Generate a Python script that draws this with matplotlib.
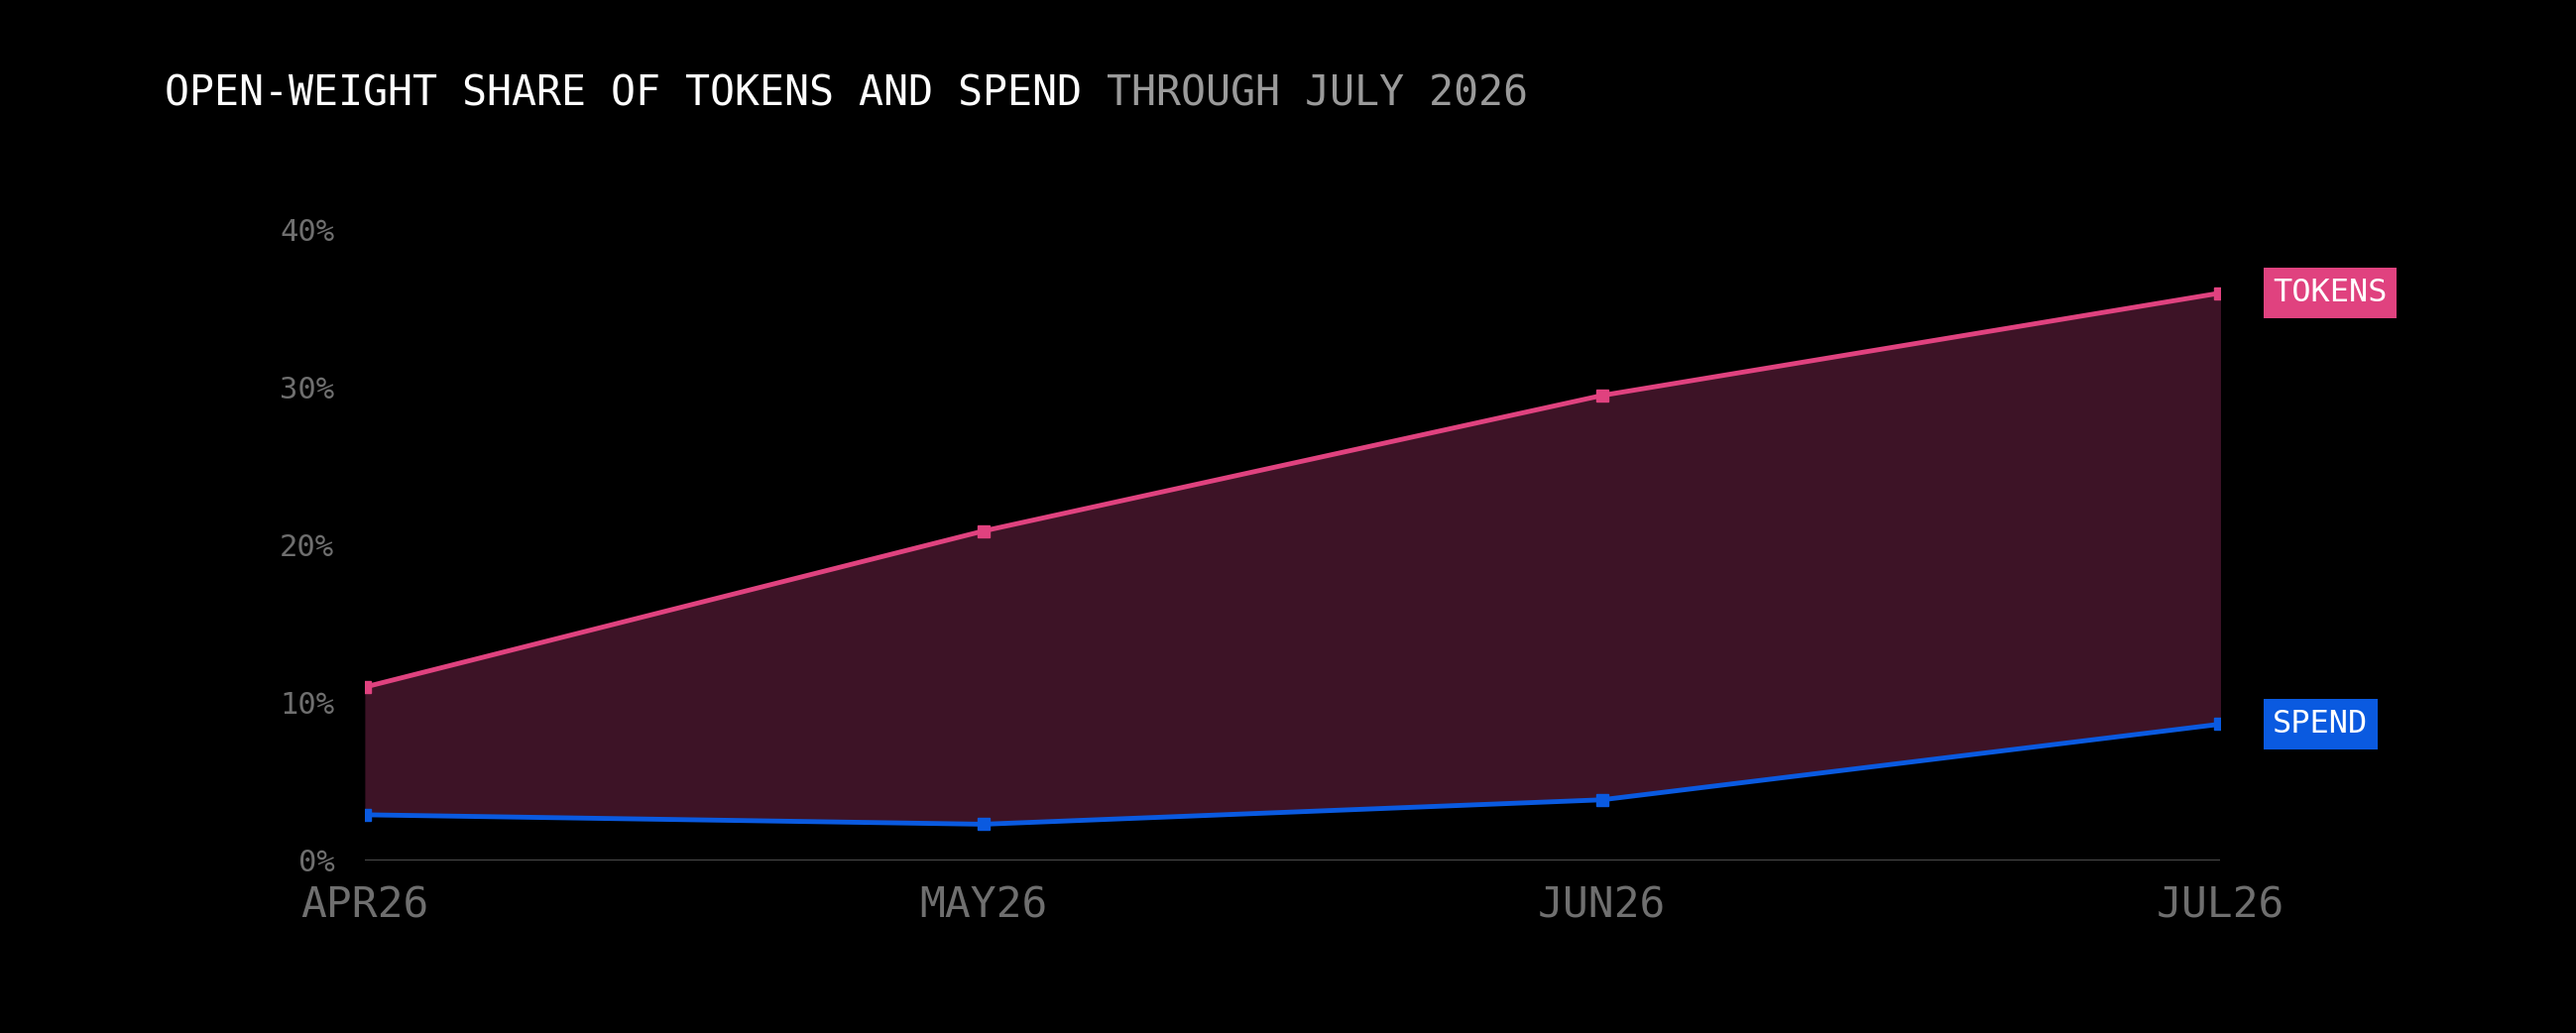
import matplotlib
matplotlib.use("Agg")
import matplotlib.pyplot as plt

months = ["APR26", "MAY26", "JUN26", "JUL26"]
tokens = [11.0, 20.9, 29.5, 36.0]
spend = [2.9, 2.3, 3.85, 8.65]
yticks = [0, 10, 20, 30, 40]

BG = "#000000"
PINK = "#e0427f"
BLUE = "#0a5ae0"
FILL = "#3d1326"
GRAY = "#6f6f6f"
FONT = ["DejaVu Sans Mono"]

fig = plt.figure(figsize=(25.98, 10.42), dpi=100, facecolor=BG)
ax = fig.add_axes([0.1416, 0.167, 0.7204, 0.6104], facecolor=BG)
x = range(len(months))

ax.fill_between(x, spend, tokens, color=FILL, linewidth=0)
ax.plot(x, tokens, color=PINK, lw=3.5, marker="s", ms=8)
ax.plot(x, spend, color=BLUE, lw=3.5, marker="s", ms=8)
ax.axhline(0, color="#555555", lw=2)

ax.set_xlim(0, len(months) - 1)
ax.set_ylim(0, 40)
ax.set_yticks(yticks)
ax.set_yticklabels([f"{v}%" for v in yticks], fontsize=22, color=GRAY, family=FONT)
ax.set_xticks(list(x))
ax.set_xticklabels(months, fontsize=31, color=GRAY, family=FONT)
ax.tick_params(length=0, pad=18)
ax.tick_params(axis="y", pad=22)
for s in ax.spines.values():
    s.set_visible(False)

for vals, label, col in [(tokens, "TOKENS", PINK), (spend, "SPEND", BLUE)]:
    ax.annotate(label, (len(months) - 1, vals[-1]), xytext=(38, 0),
                textcoords="offset points", va="center", ha="left",
                fontsize=23, color="white", family=FONT,
                bbox=dict(boxstyle="square,pad=0.3", fc=col, ec="none"))

t1 = fig.text(0.064, 0.909, "OPEN-WEIGHT SHARE OF TOKENS AND SPEND ", fontsize=30,
              color="white", family=FONT, va="center")
fig.canvas.draw()
bb = t1.get_window_extent().transformed(fig.transFigure.inverted())
fig.text(bb.x1, 0.909, "THROUGH JULY 2026", fontsize=30, color="#9a9a9a",
         family=FONT, va="center")

fig.savefig("out.png", dpi=100, facecolor=BG)
